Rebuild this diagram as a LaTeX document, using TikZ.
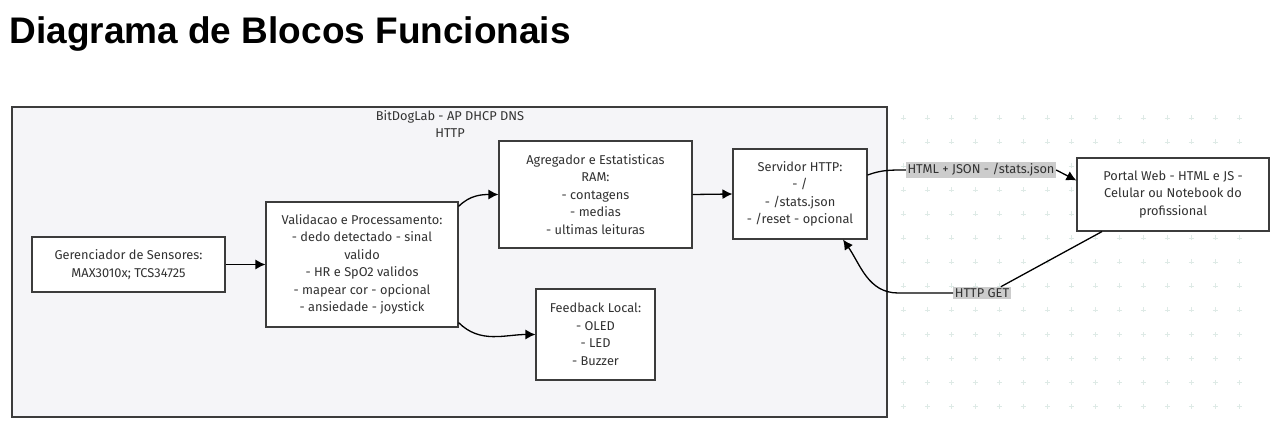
\documentclass[tikz,border=0pt]{standalone}
\usepackage{fontspec}
\setmainfont{Fira Sans}
\newfontfamily\titulofont{Liberation Sans}
\usepackage{tikz}
\usetikzlibrary{positioning,arrows.meta,calc}
\definecolor{fundo}{RGB}{245,245,248}
\definecolor{borda}{RGB}{60,60,60}
\definecolor{textobloco}{RGB}{50,50,50}
\definecolor{rotulo}{RGB}{204,204,204}
\definecolor{grade}{RGB}{222,234,230}

\begin{document}
\begin{tikzpicture}[x=1pt, y=1pt,
    font=\fontsize{12.8}{17.5}\selectfont,
    bloco/.style={draw=borda, fill=white, line width=1.1pt, text=textobloco, align=center, inner sep=0pt},
    etiqueta/.style={fill=rotulo, text=textobloco, inner sep=1.5pt},
    seta/.style={line width=1.3pt, -{Latex[length=10pt,width=10pt]}},
    linha/.style={line width=1.3pt},
    grade/.style={draw=grade, line width=0.8pt}]
  \useasboundingbox (0,0) rectangle (1273,423);
  % fundo quadriculado
  \foreach \i in {0,...,14} {
    \foreach \j in {0,...,12} {
      \draw[grade] (903+24*\i, 305-24*\j) +(-2.5,0) -- +(2.5,0) +(0,-2.5) -- +(0,2.5);
    }
  }
  \node[anchor=base west, font=\titulofont\fontsize{37}{40}\selectfont\bfseries] (titulo) at (6,379) {Diagrama de Blocos Funcionais};
  % caixa BitDogLab
  \draw[draw=borda, fill=fundo, line width=1.2pt] (12,316) rectangle (887,6);
  \node[align=center, text=textobloco] (ap) at (450,299) {BitDogLab - AP DHCP DNS\\HTTP};
  % blocos
  \node[bloco, minimum width=193pt, minimum height=55pt] (ger) at (128.5,158.5) {Gerenciador de Sensores:\\MAX3010x; TCS34725};
  \node[bloco, minimum width=192pt, minimum height=125pt] (val) at (362,158.5) {Validacao e Processamento:\\- dedo detectado - sinal\\valido\\- HR e SpO2 validos\\- mapear cor - opcional\\- ansiedade - joystick};
  \node[bloco, minimum width=193pt, minimum height=107pt] (agg) at (595.5,228.5) {Agregador e Estatisticas\\RAM:\\- contagens\\- medias\\- ultimas leituras};
  \node[bloco, minimum width=134pt, minimum height=90pt] (srv) at (800,229) {Servidor HTTP:\\- /\\- /stats.json\\- /reset - opcional};
  \node[bloco, minimum width=119pt, minimum height=91pt] (fbk) at (595.5,88.5) {Feedback Local:\\- OLED\\- LED\\- Buzzer};
  \node[bloco, minimum width=192pt, minimum height=73pt] (web) at (1173,228.5) {Portal Web - HTML e JS -\\Celular ou Notebook do\\profissional};
  % rotulos
  \node[etiqueta] (json) at (981,253) {HTML + JSON - /stats.json};
  \node[etiqueta] (get) at (982,130) {HTTP GET};
  % conexoes
  \draw[seta] (ger.east) -- (val.west);
  \draw[seta] ([yshift=-5pt]val.north east) to[out=45,in=180] (agg.west);
  \draw[seta] ([yshift=5pt]val.south east) to[out=-45,in=180] (fbk.west);
  \draw[seta] (agg.east) -- (srv.west);
  \draw[linha] ([yshift=19pt]srv.east) to[out=20,in=180] (json.west);
  \draw[seta] (json.east) -- ([yshift=14pt]web.west);
  \draw[linha] ([xshift=-71pt]web.south) -- ([xshift=-10pt]get.north east);
  \draw[seta] (get.west) -- ++(-55,0) to[out=180,in=-55] ([xshift=43pt]srv.south);
\end{tikzpicture}
\end{document}
